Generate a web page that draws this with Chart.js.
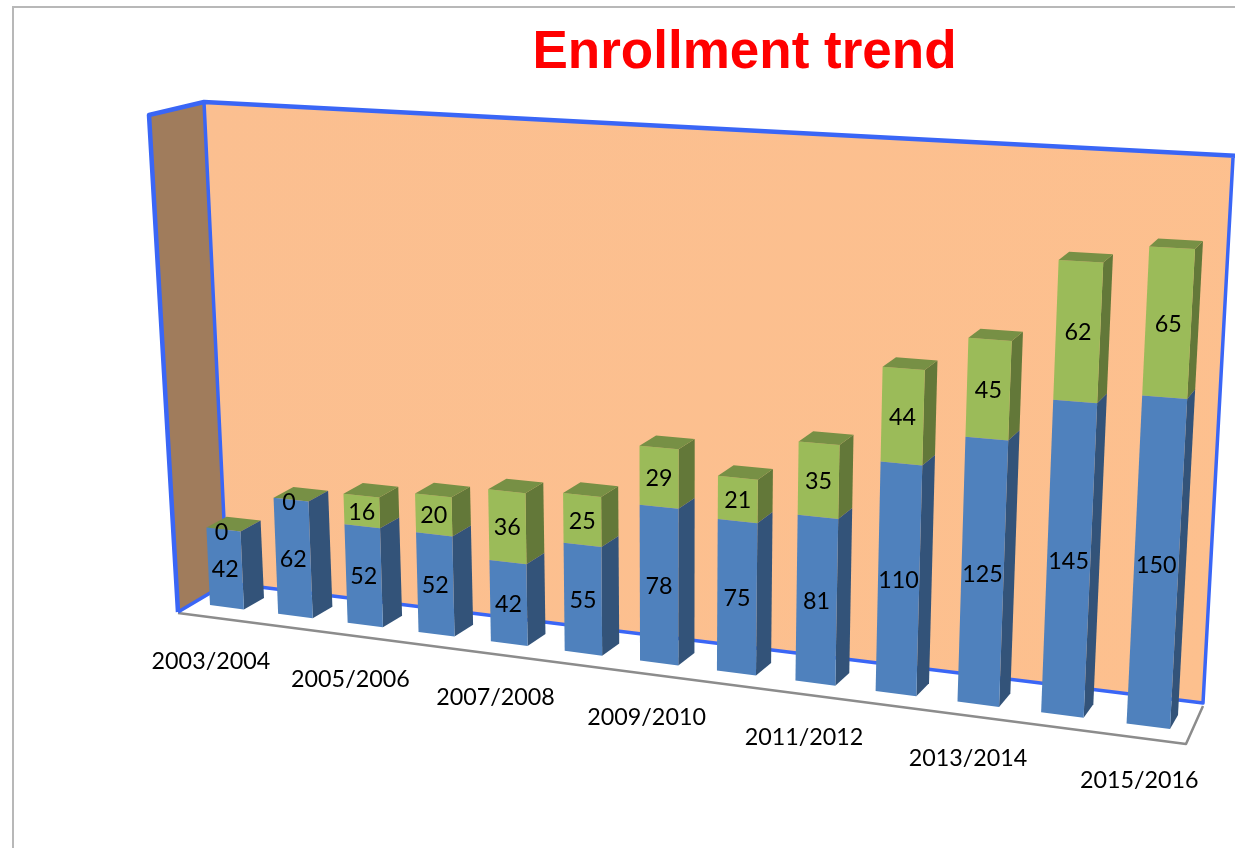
<!DOCTYPE html>
<html><head><meta charset="utf-8">
<style>
html,body{margin:0;padding:0;background:#fff;overflow:hidden}
#wrap{position:relative;width:1235px;height:848px}
#frame{position:absolute;left:12px;top:6px;right:-5px;bottom:-5px;border-left:2px solid #b8b8b8;border-top:2px solid #b8b8b8}
canvas{position:absolute;left:0;top:0}
</style>
<script src="https://cdn.jsdelivr.net/npm/chart.js@4"></script>
</head><body>
<div id="wrap"><div id="frame"></div><canvas id="c" width="1235" height="848"></canvas></div>
<script>
const categories = ["2003/2004","2004/2005","2005/2006","2006/2007","2007/2008","2008/2009","2009/2010","2010/2011","2011/2012","2012/2013","2013/2014","2014/2015","2015/2016"];
const seriesBlue  = [42,62,52,52,42,55,78,75,81,110,125,145,150];
const seriesGreen = [0,0,16,20,36,25,29,21,35,44,45,62,65];
const tickLabels  = ["2003/2004","2005/2006","2007/2008","2009/2010","2011/2012","2013/2014","2015/2016"];
const yMax = 250, refTotal = 215;
const blueColor = '#4f81bd', greenColor = '#9bbb59';

const labelFont = '23.3px Lato';
function quadMap(p0,p1,p2,p3){
  const dx1=p1[0]-p2[0],dx2=p3[0]-p2[0],sx=p0[0]-p1[0]+p2[0]-p3[0];
  const dy1=p1[1]-p2[1],dy2=p3[1]-p2[1],sy=p0[1]-p1[1]+p2[1]-p3[1];
  const den=dx1*dy2-dx2*dy1;
  const g=(sx*dy2-dx2*sy)/den,h=(dx1*sy-sx*dy1)/den;
  const a=p1[0]-p0[0]+g*p1[0],b=p3[0]-p0[0]+h*p3[0],c=p0[0];
  const d=p1[1]-p0[1]+g*p1[1],e=p3[1]-p0[1]+h*p3[1],f=p0[1];
  return (s,t)=>{const w=g*s+h*t+1;return [(a*s+b*t+c)/w,(d*s+e*t+f)/w];};
}
// screen placement of the bars' front and back planes
const frontMap = quadMap([210,605],[1170,729],[1195,249],[191,195]);
const backMap  = quadMap([264,598],[1178,715],[1203,241],[246,188]);
const warp = s => s + 0.034*s*(1-s);
let toFront=null,toBack=null;

function poly(ctx,pts,fill){
  ctx.beginPath();pts.forEach((p,i)=>i?ctx.lineTo(p[0],p[1]):ctx.moveTo(p[0],p[1]));ctx.closePath();
  ctx.fillStyle=fill;ctx.fill();
}
function shade(hex,k){
  const n=parseInt(hex.slice(1),16);
  return 'rgb('+[(n>>16)&255,(n>>8)&255,n&255].map(v=>Math.round(v*k)).join(',')+')';
}
Chart.BarElement.prototype.draw=function(ctx){
  const {x,y,base,width}=this, col=this.options.backgroundColor;
  const l=x-width/2,r=x+width/2;
  const fl0=toFront(l,base),fr0=toFront(r,base),fl1=toFront(l,y),fr1=toFront(r,y);
  const br0=toBack(r,base),br1=toBack(r,y),bl1=toBack(l,y);
  ctx.save();
  poly(ctx,[fr0,br0,br1,fr1],shade(col,0.64));
  poly(ctx,[fl0,fr0,fr1,fl1],col);
  if(col===greenColor) poly(ctx,[fl1,fr1,br1,bl1],shade(col,0.77));
  ctx.restore();
};

const stage3d={
  id:'stage3d',
  beforeDatasetsDraw(chart){
    const ctx=chart.ctx,m=chart.getDatasetMeta(0).data,ys=chart.scales.y;
    const a=m[0],z=m[m.length-1],w=a.width;
    const xL=a.x-w/2,xR=z.x+w/2,xRb=a.x+w/2,y0=ys.getPixelForValue(0),yT=ys.getPixelForValue(refTotal);
    toFront=(px,py)=>frontMap(warp((px-xL)/(xR-xL)),(y0-py)/(y0-yT));
    toBack =(px,py)=>backMap(warp((px-xRb)/(xR-xRb)),(y0-py)/(y0-yT));
    ctx.save();
    ctx.lineJoin='round';
    const side=[[149,115],[204,102],[227,583],[178,612]];
    const wall=[[204,102],[1233,156],[1203,703],[227,583]];
    poly(ctx,[[178,612],[227,583],[1203,703],[1186,744]],'#ffffff');
    poly(ctx,side,'#a07c5c');
    const g=ctx.createLinearGradient(204,102,1203,703);
    g.addColorStop(0,'#fbbf90');g.addColorStop(1,'#fdc08e');
    poly(ctx,wall,g);
    ctx.strokeStyle='#8c8c8c';ctx.lineWidth=2.5;
    ctx.beginPath();ctx.moveTo(178,613);ctx.lineTo(1186,744);ctx.lineTo(1203,706);ctx.stroke();
    ctx.strokeStyle='#3a66f6';ctx.lineWidth=4.5;
    ctx.beginPath();ctx.moveTo(178,612);ctx.lineTo(149,115);ctx.lineTo(204,102);ctx.lineTo(1240,156);ctx.stroke();
    ctx.lineWidth=3.5;
    ctx.beginPath();ctx.moveTo(204,102);ctx.lineTo(227,583);ctx.moveTo(178,612);ctx.lineTo(227,583);ctx.lineTo(1203,703);ctx.lineTo(1233,158);ctx.stroke();
    ctx.restore();
  },
  afterDatasetsDraw(chart){
    const ctx=chart.ctx;
    ctx.save();
    ctx.font=labelFont;ctx.fillStyle='#000';ctx.textAlign='center';ctx.textBaseline='middle';
    chart.data.datasets.forEach((ds,di)=>{
      chart.getDatasetMeta(di).data.forEach((el,i)=>{
        const v=ds.data[i];
        let p;
        if(v===0){const t=toFront(el.x,el.y);p=[t[0]-2,t[1]+2];}
        else p=toFront(el.x,(el.y+el.base)/2);
        ctx.fillText(String(v),p[0],p[1]+1);
      });
    });
    const xs=chart.scales.x,ys=chart.scales.y;
    tickLabels.forEach((t,k)=>{
      const i=categories.indexOf(t);
      const p=toFront(xs.getPixelForValue(i),ys.getPixelForValue(0));
      ctx.fillText(t,p[0]-16+7*k/6,p[1]+54);
    });
    ctx.restore();
  }
};

new Chart(document.getElementById('c'),{
  type:'bar',
  data:{labels:categories,datasets:[
    {label:'Blue',data:seriesBlue,backgroundColor:blueColor,borderWidth:0,clip:false},
    {label:'Green',data:seriesGreen,backgroundColor:greenColor,borderWidth:0,clip:false}
  ]},
  options:{
    responsive:false,animation:false,
    layout:{padding:{left:254}},
    datasets:{bar:{categoryPercentage:1,barPercentage:0.5}},
    scales:{
      x:{stacked:true,display:false},
      y:{stacked:true,display:false,min:0,max:yMax}
    },
    plugins:{
      legend:{display:false},tooltip:{enabled:false},
      title:{display:true,text:'Enrollment trend',color:'#ff0000',
        font:{family:'"Liberation Sans"',size:53,weight:'bold'},padding:{top:22,bottom:10}}
    }
  },
  plugins:[stage3d]
});
</script>
</body></html>
